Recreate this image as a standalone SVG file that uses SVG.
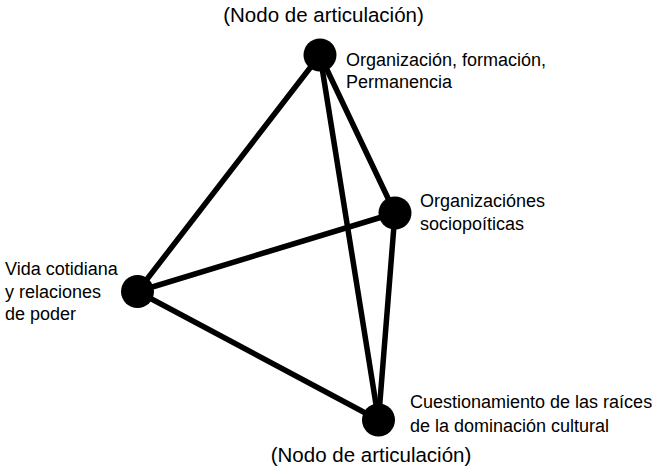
<svg xmlns="http://www.w3.org/2000/svg" width="652" height="472" viewBox="0 0 652 472">
<style>
.e{stroke:#000;stroke-width:5.5;stroke-linecap:round;fill:none}
.n{fill:#000}
.t{font-family:"Liberation Sans",Arial,sans-serif;font-size:18px;fill:#000}
.h{font-family:"Liberation Sans",Arial,sans-serif;font-size:20.5px;fill:#000}
</style>
<rect width="652" height="472" fill="#fff"/>
<g id="connectors">
<line class="e" x1="320" y1="55" x2="137.5" y2="291.5"/>
<line class="e" x1="320" y1="55" x2="395" y2="213"/>
<line class="e" x1="320" y1="55" x2="378.5" y2="420"/>
<line class="e" x1="395" y1="213" x2="137.5" y2="291.5"/>
<line class="e" x1="395" y1="213" x2="378.5" y2="420"/>
<line class="e" x1="137.5" y1="291.5" x2="378.5" y2="420"/>
</g>
<g id="node-top">
<circle class="n" cx="320" cy="55" r="16.5"/>
<text class="t" x="346" y="66">Organización, formación,</text>
<text class="t" x="346" y="88">Permanencia</text>
<text class="h" x="323.5" y="22" text-anchor="middle">(Nodo de articulación)</text>
</g>
<g id="node-right">
<circle class="n" cx="395" cy="213" r="16.5"/>
<text class="t" x="420" y="207">Organizaciónes</text>
<text class="t" x="420" y="230">sociopoíticas</text>
</g>
<g id="node-left">
<circle class="n" cx="137.5" cy="291.5" r="16.5"/>
<text class="t" x="5" y="275">Vida cotidiana</text>
<text class="t" x="5" y="298">y relaciones</text>
<text class="t" x="5" y="320">de poder</text>
</g>
<g id="node-bottom">
<circle class="n" cx="378.5" cy="420" r="16.5"/>
<text class="t" x="410" y="408">Cuestionamiento de las raíces</text>
<text class="t" x="410" y="432">de la dominación cultural</text>
<text class="h" x="371" y="462" text-anchor="middle">(Nodo de articulación)</text>
</g>
</svg>
